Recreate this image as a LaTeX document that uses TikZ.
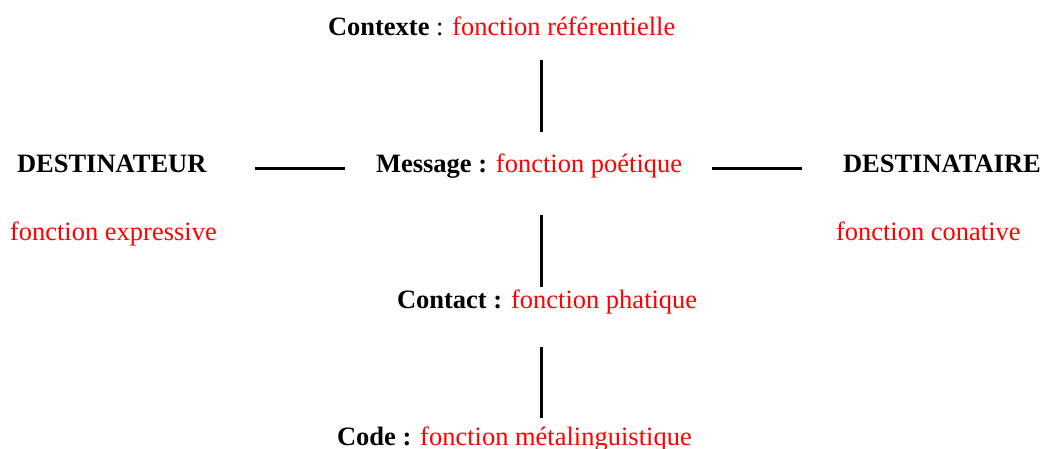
\documentclass[tikz,border=0pt]{standalone}
\usepackage{fontspec}
\setmainfont{Liberation Serif}
\definecolor{fred}{RGB}{255,0,0}
\tikzset{
  lab/.style={anchor=base west, inner sep=0pt, outer sep=0pt, font=\fontsize{26.5}{30}\selectfont},
  fn/.style={text=fred},
  link/.style={line width=3pt, black},
}
\begin{document}
\begin{tikzpicture}[x=1pt,y=-1pt]
\useasboundingbox (0,0) rectangle (1046,448);
\node[lab] (ctx) at (328,35) {\textbf{Contexte} : \textcolor{fred}{fonction référentielle}};
\node[lab] (msg) at (376,172) {\textbf{Message :} \textcolor{fred}{fonction poétique}};
\node[lab] (dest) at (17,172) {\textbf{DESTINATEUR}};
\node[lab] (dtaire) at (843,172) {\textbf{DESTINATAIRE}};
\node[lab,fn] (fexp) at (10,240) {fonction expressive};
\node[lab,fn] (fcon) at (836,240) {fonction conative};
\node[lab] (cont) at (397,308) {\textbf{Contact :} \textcolor{fred}{fonction phatique}};
\node[lab] (code) at (337,445) {\textbf{Code :} \textcolor{fred}{fonction métalinguistique}};
\coordinate (v1a) at (541,60);
\coordinate (v1b) at (541,132);
\coordinate (v2a) at (541,215);
\coordinate (v2b) at (541,287);
\coordinate (v3a) at (541,347);
\coordinate (v3b) at (541,418);
\coordinate (h1a) at (255,168);
\coordinate (h1b) at (345,168);
\coordinate (h2a) at (712,168);
\coordinate (h2b) at (802,168);
\draw[link] (v1a) -- (v1b);
\draw[link] (v2a) -- (v2b);
\draw[link] (v3a) -- (v3b);
\draw[link] (h1a) -- (h1b);
\draw[link] (h2a) -- (h2b);
\end{tikzpicture}
\end{document}
